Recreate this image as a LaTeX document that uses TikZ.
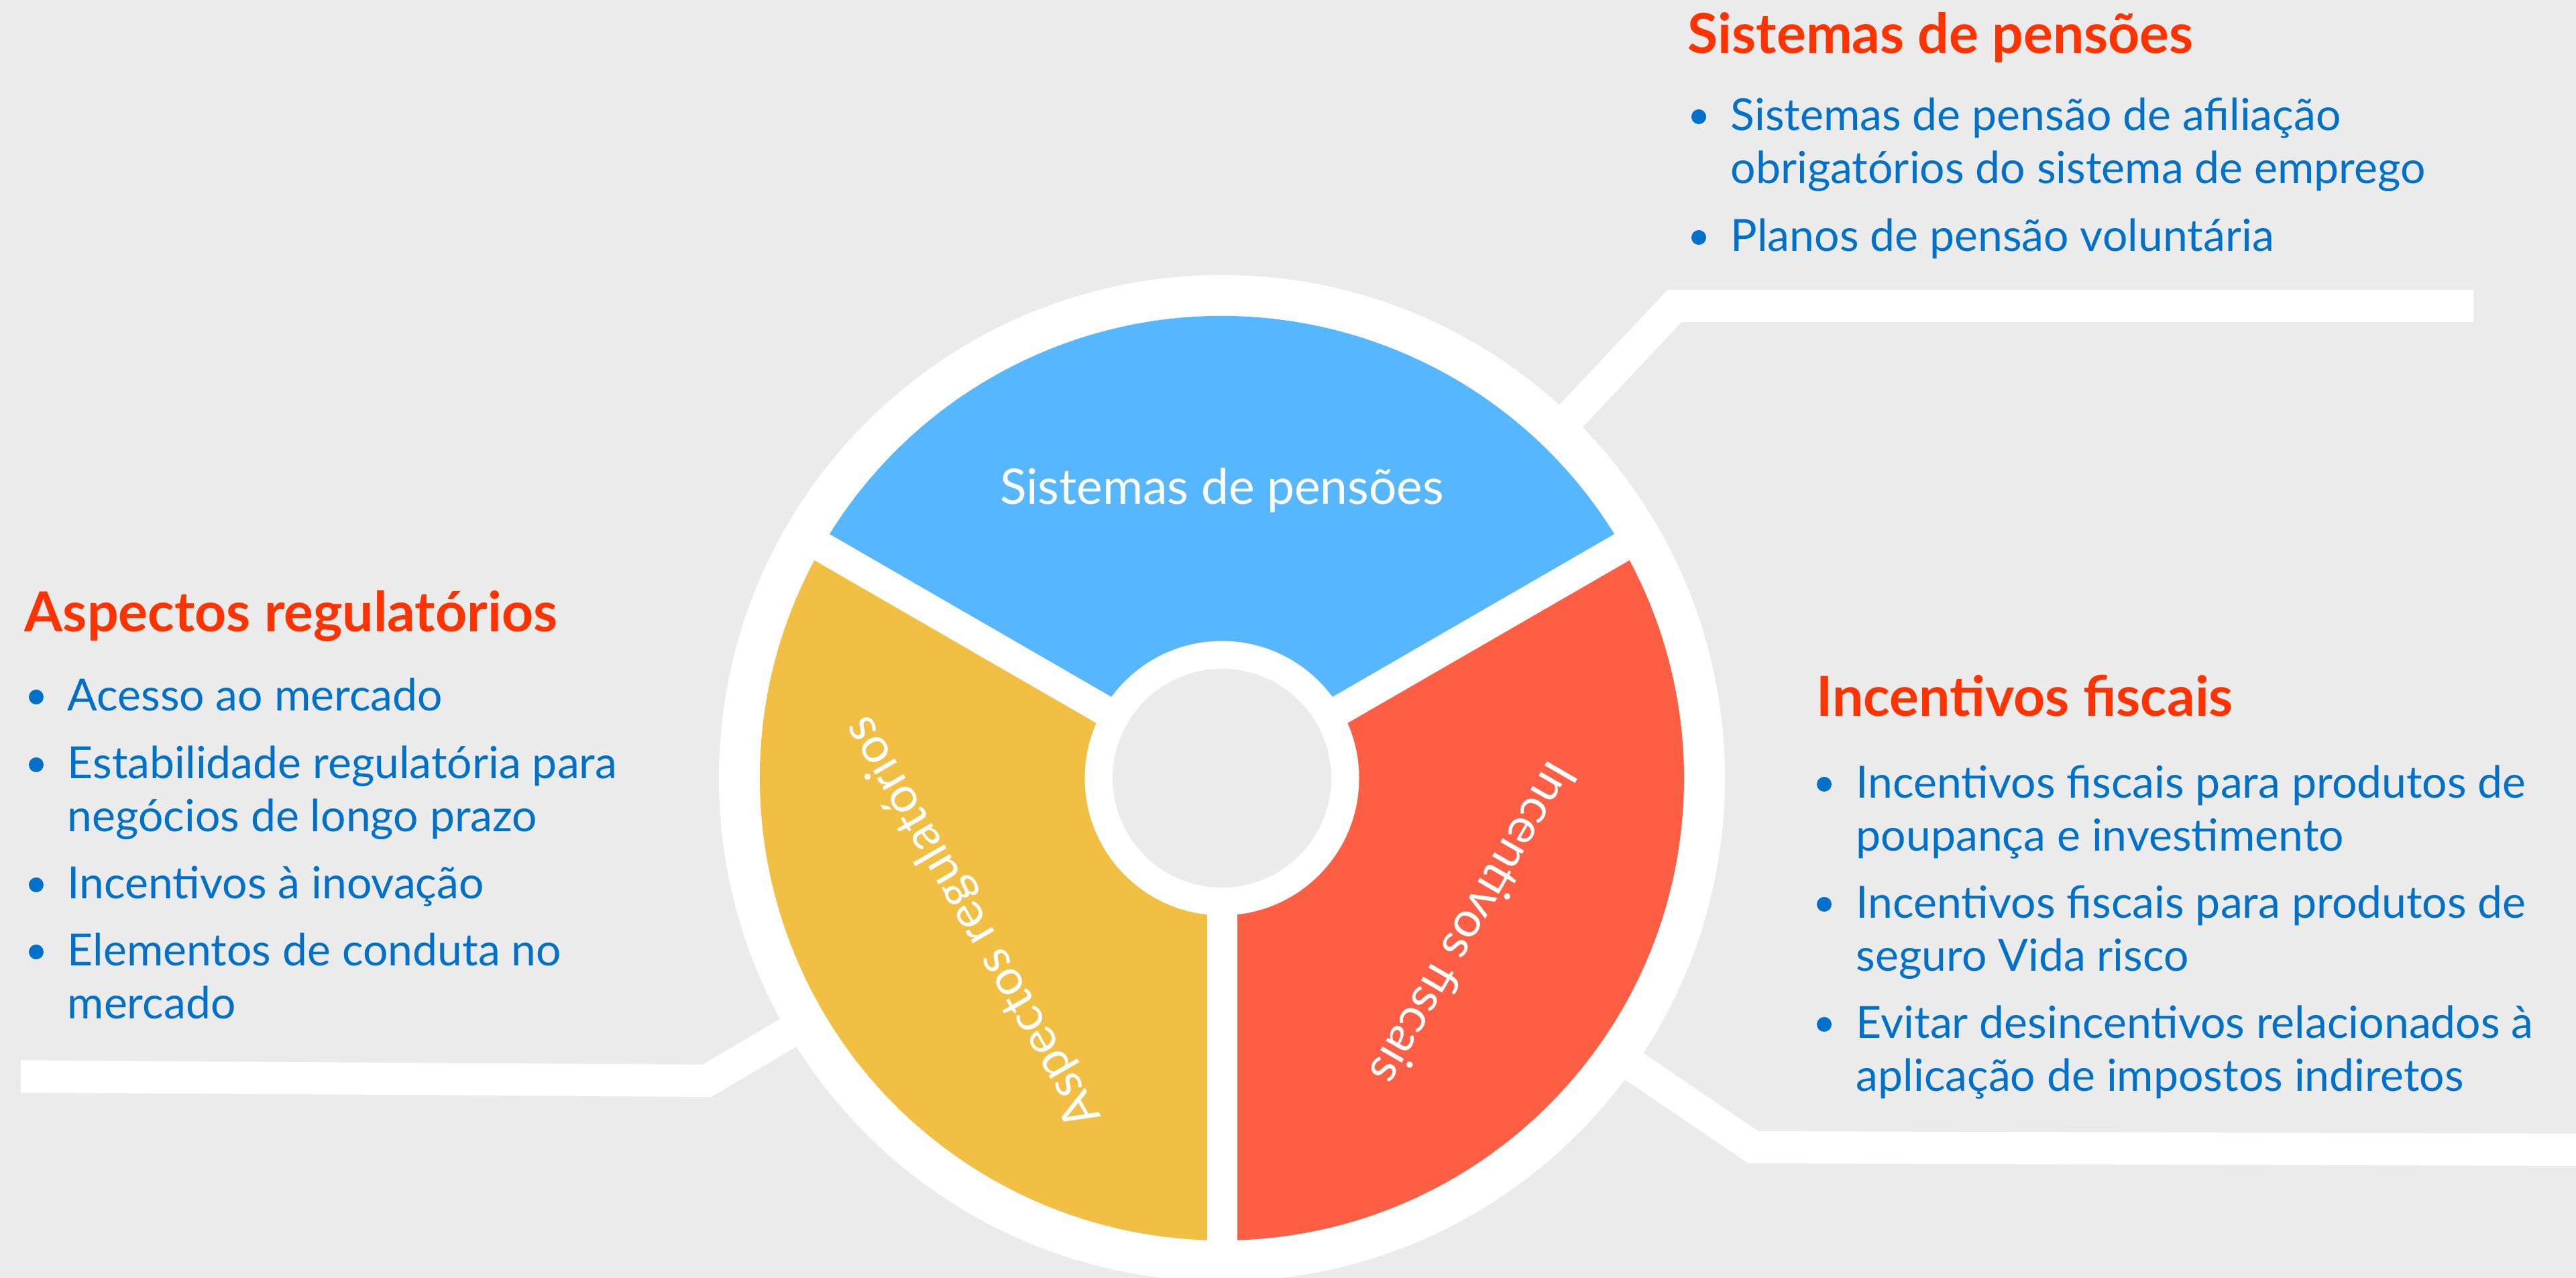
\documentclass[tikz,border=0pt]{standalone}
\usepackage{fontspec}
\setmainfont{Lato}
\usetikzlibrary{calc}
\definecolor{PenPaper}{HTML}{EBEBEB}
\definecolor{PenSky}{HTML}{56B7FF}
\definecolor{PenGold}{HTML}{F2BF45}
\definecolor{PenCoral}{HTML}{FE5E43}
\definecolor{PenRed}{HTML}{FF3300}
\definecolor{PenInk}{HTML}{0071CA}

\begin{document}
\begin{tikzpicture}[
    x=1cm,
    y=1cm,
    ring/.style={circle, fill=white, inner sep=0pt, minimum size=15cm},
    collar/.style={circle, fill=white, inner sep=0pt, minimum size=4.09cm},
    hole/.style={circle, fill=PenPaper, inner sep=0pt, minimum size=3.26cm},
    gap/.style={line width=0.45cm, white},
    link/.style={line width=0.48cm, white},
    wheel/.style={anchor=base, inner sep=0pt, text=white, font=\fontsize{20.8}{24}\selectfont},
    title/.style={anchor=base west, inner sep=0pt, text=PenRed, font=\fontsize{23.4}{27}\selectfont\bfseries},
    entry/.style={anchor=base west, inner sep=0pt, align=left, text=PenInk, font=\fontsize{18.8}{22.5}\selectfont},
    dot/.style={circle, fill=PenInk, inner sep=0pt, minimum size=0.22cm}
  ]
    \useasboundingbox (0,0) rectangle (38.41,19.05);
    \fill[PenPaper] (0,0) rectangle (38.41,19.05);

    \coordinate (hub) at (18.22,7.45);

    % connectors from the ring to the text blocks
    \coordinate (neBend) at (24.97,14.49);
    \coordinate (neEnd) at (36.88,14.49);
    \coordinate (seBend) at (26.14,1.95);
    \coordinate (seEnd) at (38.41,1.91);
    \coordinate (swBend) at (10.54,2.94);
    \coordinate (swEnd) at (0.31,3.005);
    \draw[link] ($(hub)+(46:7.0)$) -- (neBend) -- (neEnd);
    \draw[link] ($(hub)+(-35:7.0)$) -- (seBend) -- (seEnd);
    \draw[link] ($(hub)+(210.4:7.0)$) -- (swBend) -- (swEnd);

    % wheel
    \node[ring] (ring) at (hub) {};
    \foreach \a/\col in {30/PenSky,150/PenGold,270/PenCoral}
      \fill[\col] (hub) -- ($(hub)+(\a:6.89)$) arc[start angle=\a, delta angle=120, radius=6.89] -- cycle;
    \foreach \a in {30,150,270}
      \draw[gap] (hub) -- ($(hub)+(\a:7.1)$);
    \node[collar] (collar) at (hub) {};
    \node[hole] (hole) at (hub) {};

    \node[wheel] (wPen) at ($(hub)+(90:4.08)$) {Sistemas de pensões};
    \node[wheel, rotate=120] (wReg) at ($(hub)+(210:4.08)$) {Aspectos regulatórios};
    \node[wheel, rotate=-120] (wFis) at ($(hub)+(330:4.08)$) {Incentivos fiscais};

    % top right block (two-line entries sit on their last baseline)
    \node[title] (tPen) at (25.16,18.25) {Sistemas de pensões};
    \node[dot] (dPen1) at (25.33,17.31) {};
    \node[entry] (ePen1) at (25.80,16.31) {Sistemas de pensão de afiliação\\obrigatórios do sistema de emprego};
    \node[dot] (dPen2) at (25.33,15.51) {};
    \node[entry] (ePen2) at (25.80,15.30) {Planos de pensão voluntária};

    % left block
    \node[title] (tReg) at (0.36,9.63) {Aspectos regulatórios};
    \node[dot] (dReg1) at (0.54,8.66) {};
    \node[entry] (eReg1) at (1.00,8.45) {Acesso ao mercado};
    \node[dot] (dReg2) at (0.54,7.65) {};
    \node[entry] (eReg2) at (1.00,6.65) {Estabilidade regulatória para\\negócios de longo prazo};
    \node[dot] (dReg3) at (0.54,5.86) {};
    \node[entry] (eReg3) at (1.00,5.65) {Incentivos à inovação};
    \node[dot] (dReg4) at (0.54,4.86) {};
    \node[entry] (eReg4) at (1.00,3.86) {Elementos de conduta no\\mercado};

    % bottom right block
    \node[title] (tFis) at (27.08,8.37) {Incentivos fiscais};
    \node[dot] (dFis1) at (27.20,7.36) {};
    \node[entry] (eFis1) at (27.67,6.36) {Incentivos fiscais para produtos de\\poupança e investimento};
    \node[dot] (dFis2) at (27.20,5.57) {};
    \node[entry] (eFis2) at (27.67,4.57) {Incentivos fiscais para produtos de\\seguro Vida risco};
    \node[dot] (dFis3) at (27.20,3.78) {};
    \node[entry] (eFis3) at (27.67,2.78) {Evitar desincentivos relacionados à\\aplicação de impostos indiretos};
  \end{tikzpicture}
\end{document}
